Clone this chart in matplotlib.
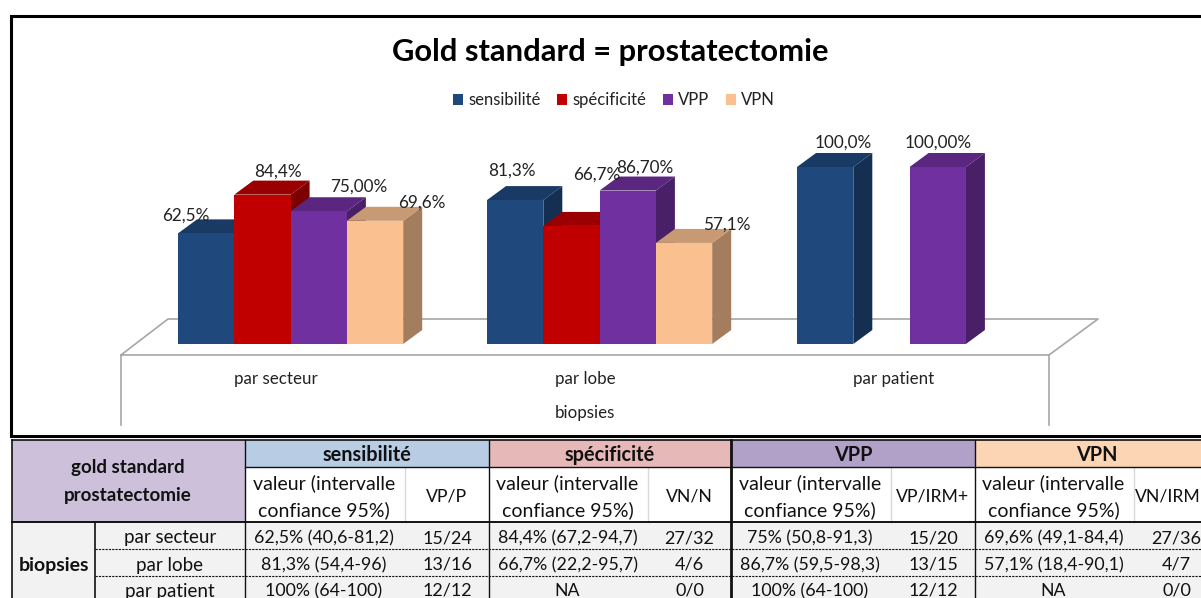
import numpy as np
import matplotlib
matplotlib.use('Agg')
import matplotlib.pyplot as plt
from matplotlib.patches import Polygon, Rectangle
from matplotlib.colors import to_rgb

plt.rcParams['font.family'] = ['Lato', 'DejaVu Sans']

groups = ['par secteur', 'par lobe', 'par patient']
series = ['sensibilité', 'spécificité', 'VPP', 'VPN']
sensibilite = [62.5, 81.3, 100.0]
specificite = [84.4, 66.7, np.nan]
vpp = [75.0, 86.7, 100.0]
vpn = [69.6, 57.1, np.nan]
labels_sens = ['62,5%', '81,3%', '100,0%']
labels_spec = ['84,4%', '66,7%', '']
labels_vpp = ['75,00%', '86,70%', '100,00%']
labels_vpn = ['69,6%', '57,1%', '']

table_heads = ['sensibilité', 'spécificité', 'VPP', 'VPN']
count_heads = ['VP/P', 'VN/N', 'VP/IRM+', 'VN/IRM']
ci_secteur = ['62,5% (40,6-81,2)', '84,4% (67,2-94,7)', '75% (50,8-91,3)', '69,6% (49,1-84,4)']
ci_lobe = ['81,3% (54,4-96)', '66,7% (22,2-95,7)', '86,7% (59,5-98,3)', '57,1% (18,4-90,1)']
ci_patient = ['100% (64-100)', 'NA', '100% (64-100)', 'NA']
n_secteur = ['15/24', '27/32', '15/20', '27/36']
n_lobe = ['13/16', '4/6', '13/15', '4/7']
n_patient = ['12/12', '0/0', '12/12', '0/0']

# layout, in pixels of the 1201x598 picture
BASE = 344
PX_PER_PCT = 1.77
BAR_W = 56.3
DX, DY = 19, 14
GROUP_LEFT = [178, 487, 797]
COLORS = ['#1F497D', '#C00000', '#7030A0', '#FAC090']
LABEL_DX = [[-20, -3, 18], [15, 25, 0], [40, 17, 0], [47, 43, 0]]
LABEL_DY = [[-18, -29, -24], [-23, -51, 0], [-25, -23, -24], [-18, -18, 0]]


def shade(color, k):
    return tuple(c * k for c in to_rgb(color))


fig = plt.figure(figsize=(12.01, 5.98), dpi=100)
ax = fig.add_axes([0, 0, 1, 1])
ax.set_xlim(0, 1201)
ax.set_ylim(598, 0)
ax.axis('off')

# chart frame, open on the right side
ax.plot([1201, 11, 11, 1201], [16, 16, 436, 436], color='black', lw=2.2, solid_joinstyle='miter', zorder=20)

# floor of the 3D chart
grey = '#a6a6a6'
ax.plot([121, 168, 1098, 1049, 121], [355, 319, 319, 355, 355], color=grey, lw=1.2, zorder=1)
ax.plot([121, 121], [355, 425], color=grey, lw=1.2, zorder=1)
ax.plot([1049, 1049], [355, 425], color=grey, lw=1.2, zorder=1)

all_values = [sensibilite, specificite, vpp, vpn]
all_labels = [labels_sens, labels_spec, labels_vpp, labels_vpn]
handles = []
for i, values in enumerate(all_values):
    col = COLORS[i]
    z = 3 + i
    xs, hs = [], []
    for g, v in enumerate(values):
        if np.isnan(v):
            continue
        x = GROUP_LEFT[g] + i * BAR_W
        top = BASE - v * PX_PER_PCT
        xs.append(x)
        hs.append(-v * PX_PER_PCT)
        ax.add_patch(Polygon([(x + BAR_W, top), (x + BAR_W + DX, top - DY), (x + BAR_W + DX, BASE - DY), (x + BAR_W, BASE)],
                             facecolor=shade(col, 0.65), edgecolor='none', zorder=z))
        ax.add_patch(Polygon([(x, top), (x + DX, top - DY), (x + BAR_W + DX, top - DY), (x + BAR_W, top)],
                             facecolor=shade(col, 0.8), edgecolor='none', zorder=z))
        ax.text(x + BAR_W / 2 + LABEL_DX[i][g], top + LABEL_DY[i][g], all_labels[i][g],
                ha='center', va='center', fontsize=12.3, color='#222222', zorder=12)
    bars = ax.bar(xs, hs, width=BAR_W, bottom=BASE, align='edge', color=col, label=series[i], zorder=z)
    handles.append(bars)

ax.text(610, 51.5, 'Gold standard = prostatectomie', ha='center', va='center', fontsize=22.2, fontweight='bold', color='black')
ax.legend(handles=handles, loc='center', bbox_to_anchor=(614 / 1201, 1 - 100.5 / 598), ncol=4, frameon=False,
          fontsize=12, handlelength=0.6, handleheight=0.7, handletextpad=0.3, columnspacing=1.0,
          labelcolor='#222222', borderpad=0)

for g, name in enumerate(groups):
    ax.text(276 + g * 309, 379, name, ha='center', va='center', fontsize=12.2, color='#222222')
ax.text(585, 413, 'biopsies', ha='center', va='center', fontsize=12.2, color='#222222')

# table below the chart
COL_X = [245, 489, 731, 975, 1219]
COUNT_X = [405, 648, 891, 1134]
HEAD_COLORS = ['#B8CCE4', '#E6B8B7', '#B1A0C7', '#FCD5B4']
dark = '#111111'

ax.add_patch(Rectangle((12, 440), 233, 82, facecolor='#CCC0DA', edgecolor='none', zorder=1))
ax.add_patch(Rectangle((12, 522), 1189, 76, facecolor='#F2F2F2', edgecolor='none', zorder=1))
for c in range(4):
    ax.add_patch(Rectangle((COL_X[c], 440), COL_X[c + 1] - COL_X[c], 27, facecolor=HEAD_COLORS[c], edgecolor='none', zorder=1))
    ax.plot([COUNT_X[c]] * 2, [467, 522], color='#d9d9d9', lw=1, zorder=2)

ax.plot([12, 1201], [440, 440], color=dark, lw=1.2, zorder=5)
ax.plot([245, 1201], [467, 467], color=dark, lw=1, zorder=5)
ax.plot([12, 1201], [522, 522], color=dark, lw=1.4, zorder=5)
for y in [549, 576]:
    ax.plot([95, 1201], [y, y], color=dark, lw=0.8, ls=(0, (2, 1)), zorder=5)
ax.plot([12, 12], [440, 598], color=dark, lw=1.2, zorder=5)
ax.plot([95, 95], [522, 598], color=dark, lw=1.2, zorder=5)
for c in range(4):
    ax.plot([COL_X[c]] * 2, [440, 598], color=dark, lw=2 if c == 2 else 1, zorder=5)

ax.text(128, 468, 'gold standard', ha='center', va='center', fontsize=13.5, fontweight='bold', color='#111111')
ax.text(128, 496, 'prostatectomie', ha='center', va='center', fontsize=13.5, fontweight='bold', color='#111111')
ax.text(54, 565, 'biopsies', ha='center', va='center', fontsize=14, fontweight='bold', color='#111111')

rows = [(ci_secteur, n_secteur, 538, groups[0]), (ci_lobe, n_lobe, 565, groups[1]), (ci_patient, n_patient, 591, groups[2])]
for ci, n, y, name in rows:
    ax.text(170, y, name, ha='center', va='center', fontsize=13.5, color='#111111')
    for c in range(4):
        ax.text((COL_X[c] + COUNT_X[c]) / 2 - 1, y, ci[c], ha='center', va='center', fontsize=12.8, color='#111111')
        ax.text((COUNT_X[c] + COL_X[c + 1]) / 2, y, n[c], ha='center', va='center', fontsize=13, color='#111111')

for c in range(4):
    ax.text((COL_X[c] + COL_X[c + 1]) / 2, 455, table_heads[c], ha='center', va='center', fontsize=14.3, fontweight='bold', color='#111111')
    ax.text((COL_X[c] + COUNT_X[c]) / 2 - 1, 483, 'valeur (intervalle', ha='center', va='center', fontsize=14, color='#111111')
    ax.text((COL_X[c] + COUNT_X[c]) / 2 - 1, 510, 'confiance 95%)', ha='center', va='center', fontsize=14, color='#111111')
    # last column runs off the picture, keep its head inside
    ax.text(min((COUNT_X[c] + COL_X[c + 1]) / 2, 1168), 497, count_heads[c], ha='center', va='center', fontsize=12.7, color='#111111')

fig.savefig('out.png', dpi=100)
plt.close(fig)
